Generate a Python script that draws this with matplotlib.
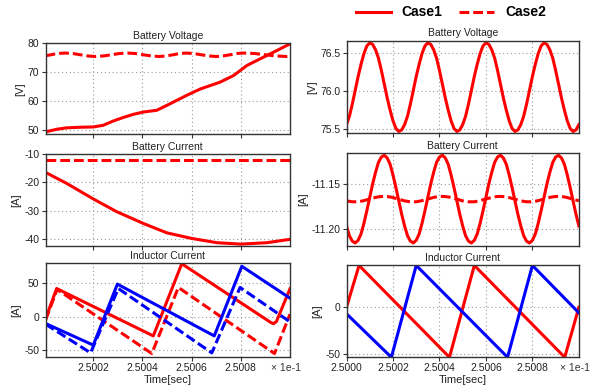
import numpy as np
import matplotlib
matplotlib.use('Agg')
import matplotlib.pyplot as plt
from matplotlib.ticker import FormatStrFormatter

plt.rcParams['font.family'] = ['Liberation Sans', 'DejaVu Sans']
plt.rcParams['axes.unicode_minus'] = False

RED = '#ff0000'
BLUE = '#0000ff'
DASH = (0, (3.2, 1.3))

# ---- left column (time axis in units of 1e-1 s) ----
# battery voltage
vb1_t = [2.500006, 2.500051, 2.500092, 2.500146, 2.500200, 2.500241, 2.500282,
         2.500322, 2.500363, 2.500404, 2.500431, 2.500458, 2.500513, 2.500580,
         2.500635, 2.500716, 2.500771, 2.500825, 2.500893, 2.500947, 2.501000]
vb1_v = [49.2, 50.1, 50.6, 50.8, 50.9, 51.5, 53.0, 54.2, 55.3, 56.1, 56.4,
         56.7, 59.0, 61.9, 64.1, 66.5, 68.8, 72.3, 75.2, 77.5, 79.8]
vb2_t = [2.500006, 2.500025, 2.500045, 2.500065, 2.500086, 2.500117, 2.500148,
         2.500178, 2.500209, 2.500241, 2.500274, 2.500306, 2.500339, 2.500371,
         2.500404, 2.500436, 2.500469, 2.500496, 2.500524, 2.500551, 2.500578,
         2.500609, 2.500640, 2.500670, 2.500701, 2.500728, 2.500756, 2.500783,
         2.500810, 2.500855, 2.500900, 2.500944, 2.500988, 2.501000]
vb2_v = [75.7, 75.95, 76.3, 76.5, 76.6, 76.45, 76.0, 75.6, 75.4, 75.6, 76.0,
         76.45, 76.6, 76.45, 76.0, 75.6, 75.4, 75.6, 76.0, 76.45, 76.6, 76.45,
         76.0, 75.6, 75.4, 75.6, 76.0, 76.45, 76.6, 76.45, 76.0, 75.6, 75.4, 75.45]

# battery current
ib1_t = [2.500006, 2.500092, 2.500200, 2.500295, 2.500404, 2.500499, 2.500601,
         2.500703, 2.500800, 2.500906, 2.501000]
ib1_v = [-16.5, -20.4, -25.9, -30.4, -34.6, -37.9, -39.9, -41.4, -41.9, -41.4, -40.2]
ib2_t = [2.500006, 2.500500, 2.501000]
ib2_v = [-12.1, -12.1, -12.1]

# inductor currents (corner points of the sawtooth)
il_red1_t = [2.500006, 2.500051, 2.500444, 2.500560, 2.500922, 2.500933, 2.500945, 2.501000]
il_red1_v = [-3.0, 42.4, -28.6, 79.5, -8.5, -10.3, -7.0, 42.0]
il_red2_t = [2.500006, 2.500053, 2.500438, 2.500546, 2.500937, 2.501000]
il_red2_v = [-5.0, 41.0, -55.0, 44.0, -55.0, 4.0]
il_blue1_t = [2.500006, 2.500200, 2.500298, 2.500692, 2.500804, 2.501000]
il_blue1_v = [-10.0, -42.4, 49.0, -28.6, 75.7, 28.0]
il_blue2_t = [2.500006, 2.500189, 2.500302, 2.500682, 2.500797, 2.501000]
il_blue2_v = [-11.0, -54.0, 42.4, -54.0, 44.0, -7.5]

# ---- right column ----
t_right = np.linspace(2.5000, 2.5010, 81)
vr_v = [75.56, 75.67, 75.83, 76.01, 76.19, 76.35, 76.49, 76.59, 76.63, 76.61,
        76.54, 76.43, 76.27, 76.09, 75.91, 75.75, 75.61, 75.51, 75.47, 75.49,
        75.56, 75.67, 75.83, 76.01, 76.19, 76.35, 76.49, 76.59, 76.63, 76.61,
        76.54, 76.43, 76.27, 76.09, 75.91, 75.75, 75.61, 75.51, 75.47, 75.49,
        75.56, 75.67, 75.83, 76.01, 76.19, 76.35, 76.49, 76.59, 76.63, 76.61,
        76.54, 76.43, 76.27, 76.09, 75.91, 75.75, 75.61, 75.51, 75.47, 75.49,
        75.56, 75.67, 75.83, 76.01, 76.19, 76.35, 76.49, 76.59, 76.63, 76.61,
        76.54, 76.43, 76.27, 76.09, 75.91, 75.75, 75.61, 75.51, 75.47, 75.49,
        75.56]
ir1_v = [-11.197, -11.208, -11.214, -11.216, -11.213, -11.206, -11.194, -11.180, -11.165, -11.150,
         -11.137, -11.126, -11.120, -11.118, -11.121, -11.128, -11.140, -11.154, -11.169, -11.184,
         -11.197, -11.208, -11.214, -11.216, -11.213, -11.206, -11.194, -11.180, -11.165, -11.150,
         -11.137, -11.126, -11.120, -11.118, -11.121, -11.128, -11.140, -11.154, -11.169, -11.184,
         -11.197, -11.208, -11.214, -11.216, -11.213, -11.206, -11.194, -11.180, -11.165, -11.150,
         -11.137, -11.126, -11.120, -11.118, -11.121, -11.128, -11.140, -11.154, -11.169, -11.184,
         -11.197, -11.208, -11.214, -11.216, -11.213, -11.206, -11.194, -11.180, -11.165, -11.150,
         -11.137, -11.126, -11.120, -11.118, -11.121, -11.128, -11.140, -11.154, -11.169, -11.184,
         -11.197]
ir2_v = [-11.1690, -11.1695, -11.1700, -11.1700, -11.1700, -11.1694, -11.1687, -11.1678, -11.1669, -11.1660,
         -11.1651, -11.1645, -11.1641, -11.1640, -11.1642, -11.1646, -11.1653, -11.1662, -11.1671, -11.1680,
         -11.1690, -11.1695, -11.1700, -11.1700, -11.1700, -11.1694, -11.1687, -11.1678, -11.1669, -11.1660,
         -11.1651, -11.1645, -11.1641, -11.1640, -11.1642, -11.1646, -11.1653, -11.1662, -11.1671, -11.1680,
         -11.1690, -11.1695, -11.1700, -11.1700, -11.1700, -11.1694, -11.1687, -11.1678, -11.1669, -11.1660,
         -11.1651, -11.1645, -11.1641, -11.1640, -11.1642, -11.1646, -11.1653, -11.1662, -11.1671, -11.1680,
         -11.1690, -11.1695, -11.1700, -11.1700, -11.1700, -11.1694, -11.1687, -11.1678, -11.1669, -11.1660,
         -11.1651, -11.1645, -11.1641, -11.1640, -11.1642, -11.1646, -11.1653, -11.1662, -11.1671, -11.1680,
         -11.1690]
ilr_red_t = [2.500000, 2.500054, 2.500443, 2.500550, 2.500939, 2.501000]
ilr_red_v = [0.0, 44.8, -53.6, 44.8, -53.6, 0.0]
ilr_blue_t = [2.500000, 2.500193, 2.500300, 2.500693, 2.500800, 2.501000]
ilr_blue_v = [-7.0, -53.6, 44.8, -53.6, 44.8, -6.0]

left_xticks = [2.5002, 2.5004, 2.5006, 2.5008]
right_xticks = [2.5000, 2.5002, 2.5004, 2.5006, 2.5008]


def style(ax, xlim, xticks, ylim, yticks, yfmt, ylabel, title, show_x):
    ax.set_xlim(*xlim)
    ax.set_ylim(*ylim)
    ax.set_xticks(xticks)
    ax.set_yticks(yticks)
    ax.xaxis.set_major_formatter(FormatStrFormatter('%.4f'))
    ax.yaxis.set_major_formatter(FormatStrFormatter(yfmt))
    ax.grid(True, color='#9a9a9a', linestyle=(0, (1, 2.5)), linewidth=0.8)
    ax.tick_params(direction='out', length=3, width=0.8, labelsize=7.5, pad=1.5,
                   colors='#333333', labelcolor='#222222')
    ax.tick_params(labelbottom=show_x)
    for s in ax.spines.values():
        s.set_color('#333333')
        s.set_linewidth(1.0)
    ax.set_title(title, fontsize=7.5, pad=3, color='#222222')
    ax.set_ylabel(ylabel, fontsize=8, labelpad=2, color='#222222')
    if show_x:
        ax.set_xlabel('Time[sec]', fontsize=8, labelpad=1, color='#222222')
        ax.text(0.985, -0.12, '\u00d7 1e-1', transform=ax.transAxes, fontsize=7.5,
                ha='center', va='center', color='#333333')


fig = plt.figure(figsize=(6.02, 3.9), dpi=100)

lx, lw_ = 0.0757, 0.406
rx, rw = 0.5756, 0.386

ax1 = fig.add_axes([lx, 0.656, lw_, 0.233])
ax2 = fig.add_axes([lx, 0.369, lw_, 0.236])
ax3 = fig.add_axes([lx, 0.0846, lw_, 0.241])
ax4 = fig.add_axes([rx, 0.659, rw, 0.237])
ax5 = fig.add_axes([rx, 0.369, rw, 0.238])
ax6 = fig.add_axes([rx, 0.0846, rw, 0.236])

lw = 2.2
h1, = ax1.plot(vb1_t, vb1_v, color=RED, lw=lw, label='Case1')
h2, = ax1.plot(vb2_t, vb2_v, color=RED, lw=lw, linestyle=DASH, label='Case2')

ax2.plot(ib1_t, ib1_v, color=RED, lw=lw)
ax2.plot(ib2_t, ib2_v, color=RED, lw=lw, linestyle=DASH)

ax3.plot(il_red1_t, il_red1_v, color=RED, lw=lw)
ax3.plot(il_red2_t, il_red2_v, color=RED, lw=lw, linestyle=DASH)
ax3.plot(il_blue1_t, il_blue1_v, color=BLUE, lw=lw)
ax3.plot(il_blue2_t, il_blue2_v, color=BLUE, lw=lw, linestyle=DASH)

ax4.plot(t_right, vr_v, color=RED, lw=lw)
ax5.plot(t_right, ir1_v, color=RED, lw=lw)
ax5.plot(t_right, ir2_v, color=RED, lw=lw, linestyle=DASH)
ax6.plot(ilr_red_t, ilr_red_v, color=RED, lw=lw)
ax6.plot(ilr_blue_t, ilr_blue_v, color=BLUE, lw=lw)

style(ax1, (2.500006, 2.501), left_xticks, (48.4, 80), [50, 60, 70, 80], '%d',
      '[V]', 'Battery Voltage', False)
style(ax2, (2.500006, 2.501), left_xticks, (-42.6, -10), [-40, -30, -20, -10], '%d',
      '[A]', 'Battery Current', False)
style(ax3, (2.500006, 2.501), left_xticks, (-60.2, 80.6), [-50, 0, 50], '%d',
      '[A]', 'Inductor Current', True)
style(ax4, (2.5000, 2.5010), right_xticks, (75.45, 76.66), [75.5, 76.0, 76.5], '%.1f',
      '[V]', 'Battery Voltage', False)
style(ax5, (2.5000, 2.5010), right_xticks, (-11.2195, -11.1158), [-11.20, -11.15], '%.2f',
      '[A]', 'Battery Current', False)
style(ax6, (2.5000, 2.5010), right_xticks, (-53.3, 45.3), [-50, 0], '%d',
      '[A]', 'Inductor Current', True)

fig.legend(handles=[h1, h2], labels=['Case1', 'Case2'], loc='center',
           bbox_to_anchor=(0.749, 0.968), ncol=2, frameon=False,
           prop={'weight': 'bold', 'size': 10}, handlelength=2.5,
           handletextpad=0.8, columnspacing=1.2)

fig.savefig('out.png', dpi=100)
